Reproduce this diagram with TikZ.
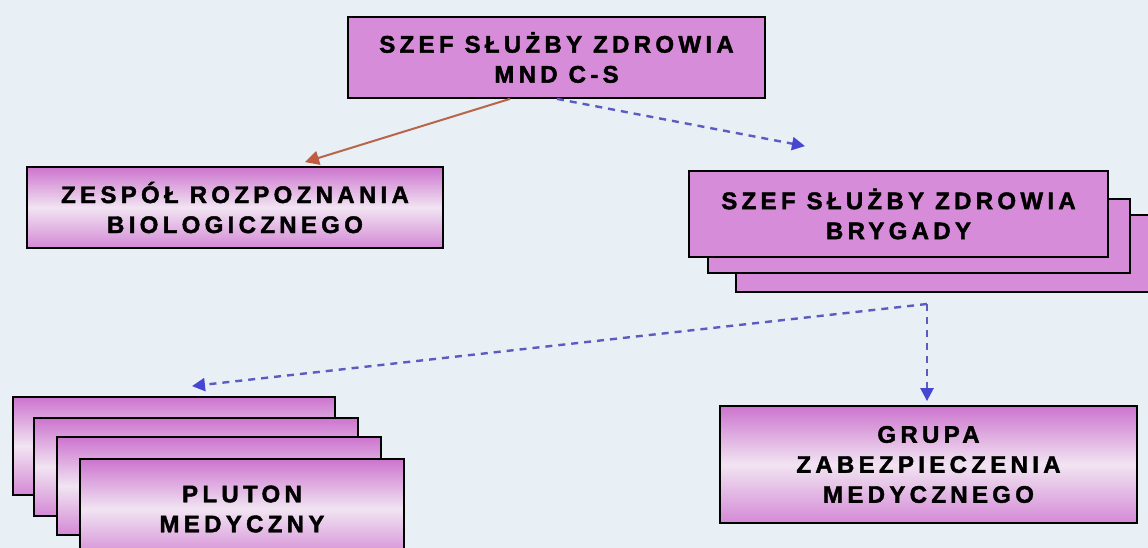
\documentclass[tikz,border=0pt]{standalone}
\usepackage{fontspec}
\newfontfamily\boxfont[LetterSpace=18,FakeBold=1.8]{Liberation Sans}
\usetikzlibrary{arrows.meta,calc}
\definecolor{bgc}{HTML}{E8EFF5}
\definecolor{orch}{HTML}{D68CD8}
\definecolor{gtop}{HTML}{CC74CE}
\definecolor{gmid}{HTML}{F1E4F2}
\definecolor{redc}{HTML}{B8664A}
\definecolor{bluec}{HTML}{5C5CC0}
\definecolor{tipc}{HTML}{4646D2}
\tikzset{
  boxbase/.style={draw=black, line width=1.8pt, inner sep=0pt, align=center,
    font=\boxfont\bfseries\fontsize{24}{30}\selectfont},
  solidbox/.style={boxbase, fill=orch},
  gradbox/.style={boxbase, top color=gtop, bottom color=gtop!85!white, middle color=gmid},
  redarrow/.style={draw=redc, line width=2pt, -{Triangle[length=14pt,width=14pt,color=redc!90!red]}},
  bluearrow/.style={draw=bluec, line width=2.4pt, dash pattern=on 7pt off 6pt,
    -{Triangle[length=13pt,width=13pt,color=tipc]}}
}
\begin{document}
\begin{tikzpicture}[x=1pt,y=-1pt]
\clip (0,0) rectangle (1148,548);
\fill[bgc] (0,0) rectangle (1148,548);

% top box
\node[solidbox, minimum width=417pt, minimum height=81pt] (top) at (556.5,57.5)
  {SZEF SŁUŻBY ZDROWIA\\MND C-S};

% zespol
\node[gradbox, minimum width=416pt, minimum height=81pt] (zes) at (235,207.5)
  {ZESPÓŁ ROZPOZNANIA\\BIOLOGICZNEGO};

% brygada stack
\node[solidbox, minimum width=434pt, minimum height=77pt] (bry3) at (953,253.5) {};
\node[solidbox, minimum width=422pt, minimum height=74pt] (bry2) at (919,236) {};
\node[solidbox, minimum width=419pt, minimum height=86pt] (bry) at (898.5,214)
  {SZEF SŁUŻBY ZDROWIA\\BRYGADY};

% grupa
\node[gradbox, minimum width=417pt, minimum height=117pt] (grupa) at (928.5,464.5)
  {GRUPA\\ZABEZPIECZENIA\\MEDYCZNEGO};

% pluton stack
\node[gradbox, minimum width=322pt, minimum height=98pt] (p1) at (174,446) {};
\node[gradbox, minimum width=324pt, minimum height=98pt] (p2) at (196,467) {};
\node[gradbox, minimum width=324pt, minimum height=98pt] (p3) at (219,486) {};
\node[gradbox, minimum width=324pt, minimum height=100pt] (p4) at (242,509)
  {PLUTON\\MEDYCZNY};

% connectors
\draw[redarrow] ([xshift=-46.5pt]top.south) -- ([xshift=70pt,yshift=4pt]zes.north);
\draw[bluearrow] ([xshift=0.5pt]top.south) -- ([xshift=-93.5pt,yshift=24pt]bry.north);
\coordinate (junc) at (927,304);
\draw[bluearrow] (junc) -- ($(junc |- grupa.north)+(0,-4)$);
\draw[bluearrow] (junc) -- ($(p1.north)+(18,-10)$);
\end{tikzpicture}
\end{document}
